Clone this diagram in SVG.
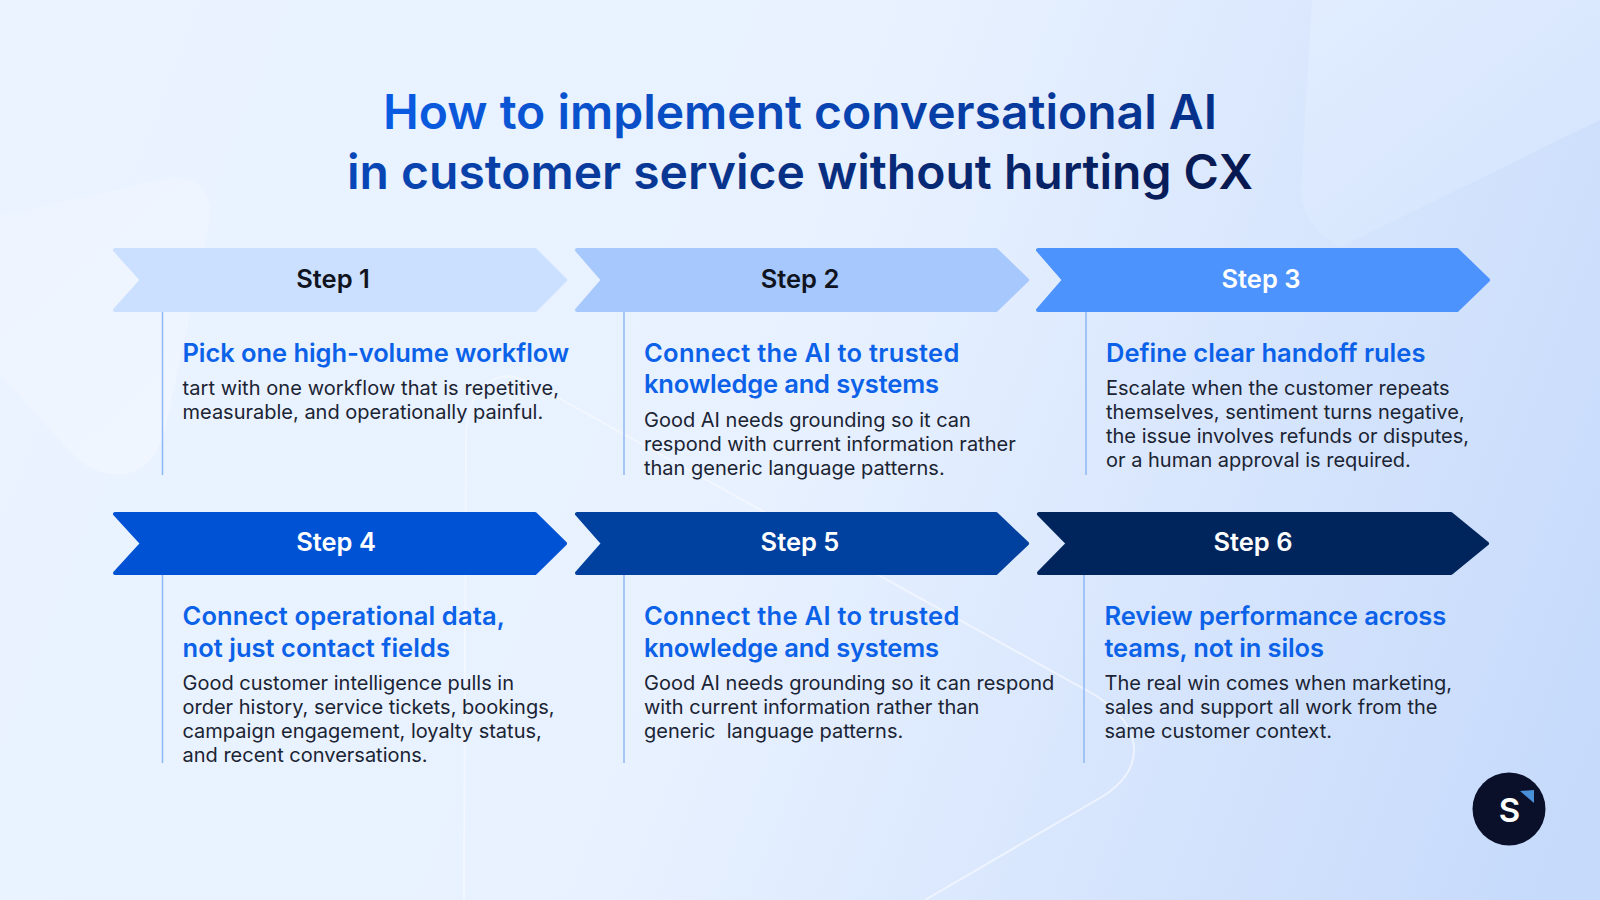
<svg xmlns="http://www.w3.org/2000/svg" width="1600" height="900" viewBox="0 0 1600 900">
<defs>
<linearGradient id="bg" x1="0" y1="0" x2="1640" y2="620" gradientUnits="userSpaceOnUse"><stop offset="0" stop-color="#eaf3ff"/><stop offset="0.5" stop-color="#e8f1ff"/><stop offset="1" stop-color="#c6dafb"/></linearGradient>
<linearGradient id="title1" x1="383" y1="0" x2="1217" y2="0" gradientUnits="userSpaceOnUse"><stop offset="0" stop-color="#0a5ce2"/><stop offset="1" stop-color="#052f88"/></linearGradient>
<linearGradient id="title2" x1="346" y1="0" x2="1254" y2="0" gradientUnits="userSpaceOnUse"><stop offset="0" stop-color="#0847b8"/><stop offset="1" stop-color="#07184f"/></linearGradient>
<linearGradient id="deco" x1="1300" y1="0" x2="1500" y2="250" gradientUnits="userSpaceOnUse"><stop offset="0" stop-color="#e1edff"/><stop offset="1" stop-color="#d6e5fd"/></linearGradient>
<linearGradient id="decoL" x1="0" y1="200" x2="220" y2="450" gradientUnits="userSpaceOnUse"><stop offset="0" stop-color="#ecf4ff"/><stop offset="1" stop-color="#f1f6ff"/></linearGradient>
</defs>
<style>
text{font-family:Inter,"Liberation Sans",sans-serif}
.t{font-size:48px;font-weight:600;text-anchor:middle}
.s{font-size:25.500px;font-weight:600;text-anchor:middle}
.h{font-size:25.500px;font-weight:600;fill:#0b62e8}
.b{font-size:20px;font-weight:400;fill:#1b2433;white-space:pre}
.dk{fill:#10141f}.lt{fill:#ffffff}
.c{stroke:#8db8f5;stroke-width:1.5;fill:none}
.ar{stroke-width:4;stroke-linejoin:round}
</style>
<rect width="1600" height="900" fill="url(#bg)"/>
<g id="background-shapes">
<path d="M1312 0L1301 190Q1300 225 1340 247L1600 120V0Z" fill="url(#deco)"/>
<path d="M0 215L170 178Q212 175 210 220L165 430Q150 485 100 472Q80 465 60 440L0 375Z" fill="url(#decoL)"/>
<path d="M464 900L466 440Q466 400 485 385Q505 368 535 385L1095 695Q1134 720 1134 750Q1134 775 1105 795L925 900" fill="none" stroke="#f7faff" stroke-width="2" stroke-opacity="0.7"/>
</g>
<g id="title-text">
<text class="t" x="800" y="129" fill="url(#title1)">How to implement conversational AI</text>
<text class="t" x="800" y="189" fill="url(#title2)">in customer service without hurting CX</text>
</g>
<g id="connectors">
<path class="c" d="M162.500 312V475M624 312V475M1086 312V475M162.500 575V763M624 575V763M1084 575V763"/>
</g>
<g id="step1">
<path class="ar" fill="#cbdffe" stroke="#cbdffe" d="M115 250H535L565 280L535 310H115L142 280Z"/>
<text class="s dk" x="333" y="288">Step 1</text>
<text class="h" x="182.500" y="361.500" textLength="386.700">Pick one high-volume workflow</text>
<text class="b" x="182.500" y="395" textLength="376.500">tart with one workflow that is repetitive,</text>
<text class="b" x="182.500" y="419">measurable, and operationally painful.</text>
</g>
<g id="step2">
<path class="ar" fill="#a6c8fd" stroke="#a6c8fd" d="M577 250H996L1027 280L996 310H577L603 280Z"/>
<text class="s dk" x="800" y="288">Step 2</text>
<text class="h" x="644" y="361.500" textLength="315.300">Connect the AI to trusted</text>
<text class="h" x="644" y="393" textLength="295">knowledge and systems</text>
<text class="b" x="644" y="427">Good AI needs grounding so it can</text>
<text class="b" x="644" y="451">respond with current information rather</text>
<text class="b" x="644" y="475">than generic language patterns.</text>
</g>
<g id="step3">
<path class="ar" fill="#4d93fd" stroke="#4d93fd" d="M1038 250H1457L1488 280L1457 310H1038L1064 280Z"/>
<text class="s lt" x="1261" y="288">Step 3</text>
<text class="h" x="1106" y="361.500" textLength="319.400">Define clear handoff rules</text>
<text class="b" x="1106" y="395">Escalate when the customer repeats</text>
<text class="b" x="1106" y="419">themselves, sentiment turns negative,</text>
<text class="b" x="1106" y="443">the issue involves refunds or disputes,</text>
<text class="b" x="1106" y="467">or a human approval is required.</text>
</g>
<g id="step4">
<path class="ar" fill="#0052d4" stroke="#0052d4" d="M115 514H535L565 543.500L535 573H115L142 543.500Z"/>
<text class="s lt" x="336" y="551">Step 4</text>
<text class="h" x="182.500" y="625" textLength="322.400">Connect operational data,</text>
<text class="h" x="182.500" y="657" textLength="267.400">not just contact fields</text>
<text class="b" x="182.500" y="690">Good customer intelligence pulls in</text>
<text class="b" x="182.500" y="714">order history, service tickets, bookings,</text>
<text class="b" x="182.500" y="738">campaign engagement, loyalty status,</text>
<text class="b" x="182.500" y="762">and recent conversations.</text>
</g>
<g id="step5">
<path class="ar" fill="#00409f" stroke="#00409f" d="M577 514H996L1027 543.500L996 573H577L603 543.500Z"/>
<text class="s lt" x="800" y="551">Step 5</text>
<text class="h" x="644" y="625" textLength="315.300">Connect the AI to trusted</text>
<text class="h" x="644" y="657" textLength="295">knowledge and systems</text>
<text class="b" x="644" y="690">Good AI needs grounding so it can respond</text>
<text class="b" x="644" y="714">with current information rather than</text>
<text class="b" x="644" y="738">generic  language patterns.</text>
</g>
<g id="step6">
<path class="ar" fill="#00245c" stroke="#00245c" d="M1039 514H1451L1487 543.500L1451 573H1039L1068 543.500Z"/>
<text class="s lt" x="1253" y="551">Step 6</text>
<text class="h" x="1104.500" y="625" textLength="341.800">Review performance across</text>
<text class="h" x="1104.500" y="657" textLength="219.400">teams, not in silos</text>
<text class="b" x="1104.500" y="690">The real win comes when marketing,</text>
<text class="b" x="1104.500" y="714">sales and support all work from the</text>
<text class="b" x="1104.500" y="738">same customer context.</text>
</g>
<g id="logo">
<circle cx="1509" cy="809" r="36.500" fill="#0a1029"/>
<path d="M1520 791L1534 790V803Z" fill="#4a90d9"/>
<text x="1509.500" y="822" font-size="33" font-weight="600" fill="#ffffff" text-anchor="middle">S</text>
</g>
</svg>
